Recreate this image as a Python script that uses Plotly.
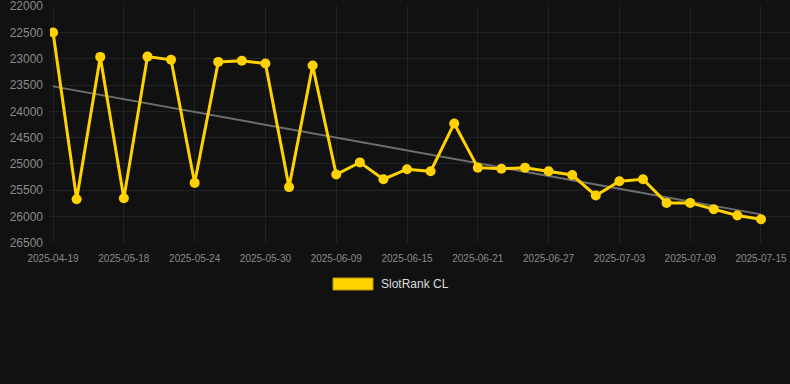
import numpy as np
import plotly.graph_objects as go

dates = [
    "2025-04-19", "2025-04-29", "2025-05-08", "2025-05-18", "2025-05-20", "2025-05-22",
    "2025-05-24", "2025-05-26", "2025-05-28", "2025-05-30", "2025-06-03", "2025-06-06",
    "2025-06-09", "2025-06-11", "2025-06-13", "2025-06-15", "2025-06-17", "2025-06-19",
    "2025-06-21", "2025-06-23", "2025-06-25", "2025-06-27", "2025-06-29", "2025-07-01",
    "2025-07-03", "2025-07-05", "2025-07-07", "2025-07-09", "2025-07-11", "2025-07-13",
    "2025-07-15",
]
ranks = [
    22500, 25670, 22965, 25650, 22960, 23020, 25360, 23060, 23040, 23090, 25440,
    23130, 25200, 24970, 25290, 25100, 25140, 24230, 25070, 25090, 25070, 25140,
    25210, 25600, 25330, 25290, 25740, 25740, 25860, 25980, 26050,
]
y_ticks = [22000, 22500, 23000, 23500, 24000, 24500, 25000, 25500, 26000, 26500]
y_tick_labels = [str(v) for v in y_ticks]
series_name = "SlotRank CL"

YELLOW = "#FFD200"
BG = "#111111"
GRID = "#222222"
TICK = "#8a8a8a"

idx = np.arange(len(ranks))
coef = np.polyfit(idx, ranks, 1)
trend = np.polyval(coef, idx)

fig = go.Figure()
fig.add_trace(go.Scatter(
    x=dates, y=trend, mode="lines",
    line=dict(color="#6e6e6e", width=2),
    hoverinfo="skip", showlegend=False,
))
fig.add_trace(go.Scatter(
    x=dates, y=ranks, mode="lines+markers", name=series_name,
    line=dict(color=YELLOW, width=3),
    marker=dict(color=YELLOW, size=10),
    showlegend=False,
))

fig.update_layout(
    width=790, height=384,
    margin=dict(l=50, r=0, t=6, b=141),
    paper_bgcolor=BG, plot_bgcolor=BG,
    font=dict(family="Liberation Sans, Arial, sans-serif", color=TICK),
    xaxis=dict(
        type="category", range=[-0.13, 31.23],
        tickmode="array", tickvals=dates[::3], ticktext=dates[::3],
        tickfont=dict(size=10, color=TICK),
        showgrid=True, gridcolor=GRID, gridwidth=1,
        showline=False, zeroline=False, ticks="", ticklabelstandoff=8,
    ),
    yaxis=dict(
        range=[26502, 21998], tickmode="array",
        tickvals=y_ticks, ticktext=y_tick_labels,
        tickfont=dict(size=12, color=TICK),
        showgrid=True, gridcolor=GRID, gridwidth=1,
        showline=False, zeroline=False, ticks="", ticklabelstandoff=6,
        ticklabeloverflow="allow",
    ),
    shapes=[dict(
        type="rect", xref="paper", yref="paper",
        x0=(333 - 50) / 740, x1=(373 - 50) / 740,
        y0=(384 - 141 - 290) / 237, y1=(384 - 141 - 278) / 237,
        fillcolor=YELLOW, line=dict(color="#b89600", width=1),
    )],
    annotations=[dict(
        text=series_name, xref="paper", yref="paper",
        x=(379 - 50) / 740, y=(384 - 141 - 284) / 237,
        xanchor="left", yanchor="middle", showarrow=False,
        font=dict(size=12, color="#dddddd"),
    )],
)

fig.write_html(
    "out.html",
    config={"displayModeBar": False},
    post_script="document.body.style.margin='0';document.body.style.background='#111111';",
)
